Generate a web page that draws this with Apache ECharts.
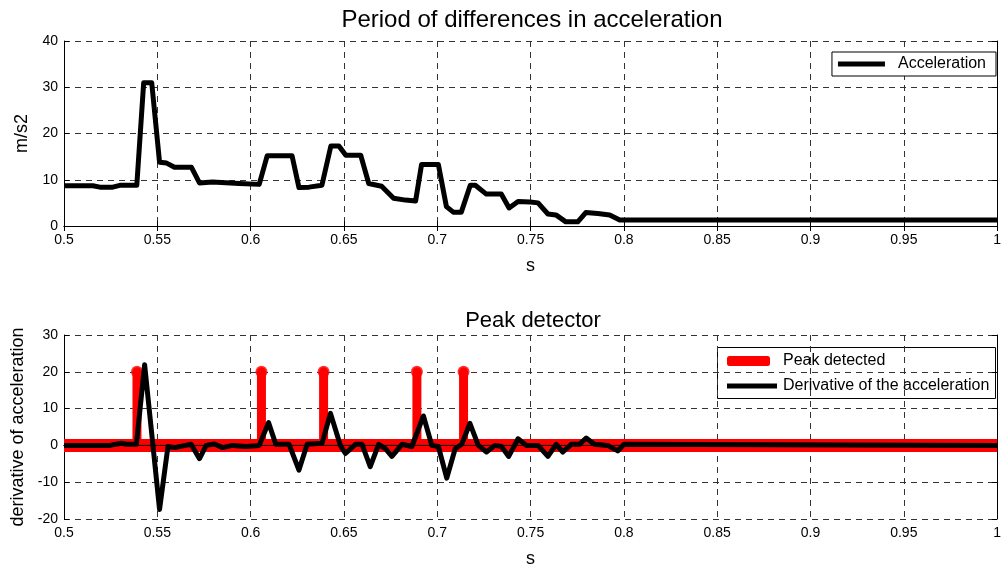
<!DOCTYPE html>
<html>
<head>
<meta charset="utf-8">
<script src="https://cdn.jsdelivr.net/npm/echarts@6/dist/echarts.min.js"></script>
<style>html,body{margin:0;padding:0;background:#fff}#c{width:1004px;height:569px}</style>
</head>
<body>
<div id="c"></div>
<script>
// ---- Data ----
const accT = [0.5,0.5155,0.5192,0.5261,0.5299,0.539,0.5427,0.547,0.5512,0.555,0.5592,0.5683,0.5726,0.5795,0.5939,0.6046,0.6089,0.6222,0.6259,0.6313,0.6382,0.643,0.6473,0.651,0.659,0.6633,0.6702,0.6766,0.683,0.6884,0.6916,0.7006,0.7049,0.7086,0.7129,0.7177,0.7204,0.7263,0.7343,0.7385,0.7433,0.7497,0.754,0.7593,0.7636,0.7689,0.7753,0.7796,0.786,0.7924,0.7978,1.0];
const accV = [8.7,8.7,8.4,8.4,8.8,8.8,31,31,13.8,13.6,12.7,12.7,9.3,9.5,9.2,9.0,15.2,15.2,8.3,8.4,8.8,17.3,17.3,15.3,15.3,9.2,8.6,6.0,5.6,5.4,13.3,13.3,4.2,3.0,3.0,8.8,8.8,6.9,6.9,3.9,5.3,5.2,5.0,2.6,2.4,0.9,0.9,2.9,2.7,2.4,1.3,1.3];

const derT = [0.5,0.5245,0.5308,0.5334,0.5388,0.5432,0.5512,0.5557,0.5592,0.5681,0.5726,0.5762,0.5806,0.585,0.5903,0.5975,0.6046,0.6096,0.6135,0.6206,0.6259,0.6303,0.6383,0.6428,0.6481,0.6508,0.6562,0.6597,0.6641,0.6686,0.6722,0.6757,0.6811,0.6864,0.6926,0.6971,0.7006,0.7051,0.7096,0.7131,0.7175,0.722,0.7264,0.7309,0.7344,0.7383,0.7433,0.7477,0.754,0.7593,0.7638,0.7673,0.7718,0.7762,0.7798,0.7842,0.7913,0.7967,0.8001,1.0];
const derV = [0,0,0.6,0.3,0.3,21.9,-17.4,-0.3,-0.6,0.3,-3.6,0,0.4,-0.6,0,-0.3,0,6.2,0.3,0.3,-6.7,0.3,0.6,8.7,0,-2.2,0.3,0.3,-5.8,0.3,-0.9,-3.0,0.3,-0.3,8.0,0,-0.3,-8.9,-0.9,0.3,6.0,0,-1.8,0,-0.3,-3.0,1.8,0,0,-3.0,0.3,-1.8,0.3,0.3,2.0,0.3,0,-1.5,0.3,0];

const peakTimes = [0.5391,0.6058,0.6391,0.6891,0.7141];
const peakValue = 20;
const xRange = [0.5, 1.0];

// ---- Build series data ----
const accData = accT.map((t,i)=>[t,accV[i]]);
const derData = derT.map((t,i)=>[t,derV[i]]);
const stemData = [];
peakTimes.forEach(t=>{ stemData.push([t,0],[t,peakValue],[t,0],null); });
const stemTops = peakTimes.map(t=>[t,peakValue]);
const zeroData = [[xRange[0],0],[xRange[1],0]];

const FONT = 'Liberation Sans, Arial, sans-serif';
const fmt = v => String(+v.toFixed(2));
const gridLine = {show:true, lineStyle:{color:'#333', type:[6,5], width:1}};

function xAx(gi, show){
  return {
    type:'value', gridIndex:gi, min:xRange[0], max:xRange[1], interval:0.05,
    position: show ? 'bottom' : 'top',
    name: show ? 's' : '', nameLocation:'middle', nameGap: gi===0 ? 31 : 31,
    nameTextStyle:{fontFamily:FONT, fontSize:18, color:'#000'},
    axisLine:{show:true, lineStyle:{color:'#000', width:1}},
    axisTick:{show:true, inside:true, length:5, lineStyle:{color:'#000'}},
    axisLabel:{show:show, formatter:fmt, fontFamily:FONT, fontSize:14, color:'#000', margin:7},
    splitLine: show ? gridLine : {show:false}
  };
}
function yAx(gi, min, max, name, show, gap){
  return {
    type:'value', gridIndex:gi, min:min, max:max, interval:10,
    position: show ? 'left' : 'right',
    name: show ? name : '', nameLocation:'middle', nameGap:gap, nameRotate:90,
    nameTextStyle:{fontFamily:FONT, fontSize:18, color:'#000'},
    axisLine:{show:true, lineStyle:{color:'#000', width:1}},
    axisTick:{show:true, inside:true, length:5, lineStyle:{color:'#000'}},
    axisLabel:{show:show, fontFamily:FONT, fontSize:14, color:'#000', margin:6},
    splitLine: show ? gridLine : {show:false}
  };
}

const option = {
  animation:false,
  backgroundColor:'#fff',
  title:[
    {text:'Period of differences in acceleration', left:527, textAlign:'center', top:3,
     textStyle:{fontFamily:FONT, fontSize:24, fontWeight:'normal', color:'#000'}},
    {text:'Peak detector', left:528, textAlign:'center', top:305,
     textStyle:{fontFamily:FONT, fontSize:22, fontWeight:'normal', color:'#000'}}
  ],
  grid:[
    {left:64, right:3, top:41, height:185},
    {left:64, right:3, top:335, height:187}
  ],
  xAxis:[xAx(0,true), xAx(1,true), xAx(0,false), xAx(1,false)],
  yAxis:[yAx(0,0,40,'m/s2',true,33), yAx(1,-20,30,'derivative of acceleration',true,34),
         yAx(0,0,40,'',false,0), yAx(1,-20,30,'',false,0)],
  legend:[
    {data:[{name:'Acceleration', icon:'rect'}], right:8, top:52, itemWidth:47, itemHeight:5,
     padding:[4,10,4,6], borderColor:'#000', borderWidth:1, backgroundColor:'#fff',
     textStyle:{fontFamily:FONT, fontSize:16, color:'#000', padding:[0,0,0,8]}},
    {data:[{name:'Peak detected', icon:'roundRect'}], left:727, top:353, itemWidth:43, itemHeight:10,
     padding:0, textStyle:{fontFamily:FONT, fontSize:16, color:'#000', padding:[0,0,0,8]}},
    {data:[{name:'Derivative of the acceleration', icon:'rect'}], left:727, top:378, itemWidth:50, itemHeight:5,
     padding:0, textStyle:{fontFamily:FONT, fontSize:16, color:'#000', padding:[0,0,0,1]}}
  ],
  graphic:[
    {type:'rect', shape:{x:717.5, y:347.5, width:278, height:51}, z:-1, silent:true,
     style:{fill:'#fff', stroke:'#000', lineWidth:1}}
  ],
  series:[
    {name:'Acceleration', type:'line', xAxisIndex:0, yAxisIndex:0, data:accData,
     showSymbol:false, lineStyle:{color:'#000', width:5, join:'round'}, itemStyle:{color:'#000'}, z:3},
    {name:'Peak detected', type:'line', xAxisIndex:1, yAxisIndex:1, data:zeroData,
     showSymbol:false, lineStyle:{color:'#ff0000', width:13}, itemStyle:{color:'#ff0000'}, z:2},
    {name:'Peak detected', type:'line', xAxisIndex:1, yAxisIndex:1, data:stemData, connectNulls:false,
     showSymbol:false, lineStyle:{color:'#ff0000', width:9, join:'round', cap:'round'}, itemStyle:{color:'#ff0000'}, z:2},
    {name:'Peak detected', type:'scatter', xAxisIndex:1, yAxisIndex:1, data:stemTops,
     symbol:'circle', symbolSize:12, itemStyle:{color:'#ff0000'}, z:2},
    {name:'baseline', type:'line', xAxisIndex:1, yAxisIndex:1, data:zeroData,
     showSymbol:false, lineStyle:{color:'#000', width:1}, z:3},
    {name:'Derivative of the acceleration', type:'line', xAxisIndex:1, yAxisIndex:1, data:derData,
     showSymbol:false, lineStyle:{color:'#000', width:5, join:'round'}, itemStyle:{color:'#000'}, z:4}
  ]
};
const chart = echarts.init(document.getElementById('c'), null, {renderer:'canvas'});
chart.setOption(option);
</script>
</body>
</html>
